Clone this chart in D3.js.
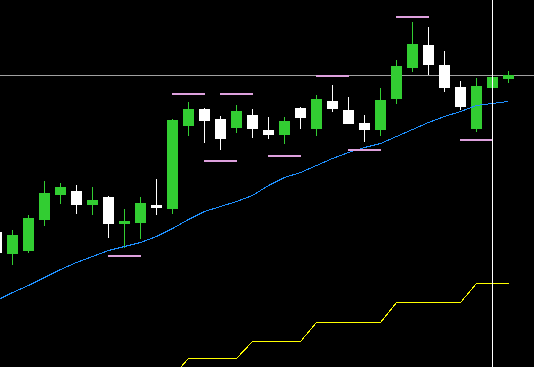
<!DOCTYPE html>
<html>
<head>
<meta charset="utf-8">
<script src="https://cdn.jsdelivr.net/npm/d3@7"></script>
<style>
  html, body { margin: 0; padding: 0; background: #000; overflow: hidden; }
  #chart { width: 534px; height: 367px; }
</style>
</head>
<body>
<div id="chart"></div>
<script>
// candle data (price, 4 digits)
const opens  = [1.3035, 1.3014, 1.3017, 1.3048, 1.3073, 1.3076, 1.3063, 1.3070, 1.3044, 1.3045, 1.3062,
                1.3059, 1.3142, 1.3158, 1.3148, 1.3140, 1.3152, 1.3137, 1.3133, 1.3159, 1.3139, 1.3166,
                1.3157, 1.3144, 1.3138, 1.3169, 1.3200, 1.3222, 1.3202, 1.3180, 1.3139, 1.3180, 1.3189];
const highs  = [1.3041, 1.3037, 1.3052, 1.3086, 1.3084, 1.3082, 1.3080, 1.3071, 1.3058, 1.3070, 1.3088,
                1.3148, 1.3165, 1.3159, 1.3151, 1.3162, 1.3158, 1.3150, 1.3150, 1.3160, 1.3172, 1.3182,
                1.3170, 1.3152, 1.3179, 1.3207, 1.3245, 1.3240, 1.3216, 1.3186, 1.3189, 1.3192, 1.3196];
const lows   = [1.3011, 1.3003, 1.3015, 1.3042, 1.3064, 1.3054, 1.3053, 1.3030, 1.3020, 1.3029, 1.3053,
                1.3054, 1.3132, 1.3125, 1.3118, 1.3135, 1.3130, 1.3129, 1.3124, 1.3139, 1.3132, 1.3156,
                1.3144, 1.3126, 1.3132, 1.3164, 1.3196, 1.3193, 1.3176, 1.3158, 1.3136, 1.3179, 1.3185];
const closes = [1.3015, 1.3032, 1.3049, 1.3074, 1.3080, 1.3063, 1.3067, 1.3044, 1.3046, 1.3064, 1.3060,
                1.3147, 1.3158, 1.3147, 1.3129, 1.3156, 1.3139, 1.3133, 1.3146, 1.3150, 1.3168, 1.3159,
                1.3144, 1.3138, 1.3167, 1.3201, 1.3223, 1.3203, 1.3180, 1.3161, 1.3181, 1.3190, 1.3192];

// moving average (blue)
const maValues = [1.2967, 1.2975, 1.2982, 1.2990, 1.2998, 1.3005, 1.3011, 1.3017, 1.3021, 1.3025, 1.3031,
                  1.3039, 1.3048, 1.3056, 1.3061, 1.3066, 1.3072, 1.3082, 1.3090, 1.3095, 1.3102, 1.3109,
                  1.3115, 1.3120, 1.3124, 1.3131, 1.3138, 1.3145, 1.3151, 1.3156, 1.3162, 1.3164, 1.3166];

// step line (yellow)
const stepValues = [1.2891, 1.2891, 1.2891, 1.2891, 1.2891, 1.2891, 1.2891, 1.2891, 1.2891, 1.2891, 1.2891,
                    1.2891, 1.2909, 1.2909, 1.2909, 1.2909, 1.2926, 1.2926, 1.2926, 1.2926, 1.2945, 1.2945,
                    1.2945, 1.2945, 1.2945, 1.2965, 1.2965, 1.2965, 1.2965, 1.2965, 1.2984, 1.2984, 1.2984];

// fractal marks (pink): candle index and price
const fractalBars   = [8, 12, 14, 15, 18, 21, 23, 26, 30];
const fractalPrices = [1.3012, 1.3174, 1.3107, 1.3174, 1.3112, 1.3192, 1.3118, 1.3251, 1.3128];

const bidPrice = 1.3192;
const cursorBar = 31;

const width = 534, height = 367;

const svg = d3.select("#chart").append("svg")
    .attr("width", width)
    .attr("height", height)
    .style("display", "block")
    .attr("shape-rendering", "crispEdges");

svg.append("rect").attr("width", width).attr("height", height).attr("fill", "#000");

const x = d3.scaleLinear().domain([0, opens.length - 1]).range([-3.5, 508.5]);
const y = d3.scaleLinear().domain([1.2900, 1.3267]).range([367, 0]);

const bars = opens.map((o, i) => ({ i, o, h: highs[i], l: lows[i], c: closes[i] }));

// bid line
svg.append("line")
    .attr("x1", 0).attr("x2", width)
    .attr("y1", Math.round(y(bidPrice)) + 0.5).attr("y2", Math.round(y(bidPrice)) + 0.5)
    .attr("stroke", "#a0a0a0");

// yellow step line
svg.append("path")
    .datum(stepValues)
    .attr("fill", "none")
    .attr("stroke", "#ffff00")
    .attr("stroke-width", 1)
    .attr("d", d3.line().x((d, i) => x(i)).y(d => Math.round(y(d)) + 0.5));

// candles
const up = d => d.c >= d.o;
const col = d => up(d) ? "#32cd32" : "#ffffff";

svg.selectAll(".wick")
    .data(bars)
    .enter().append("line")
    .attr("class", "wick")
    .attr("x1", d => x(d.i)).attr("x2", d => x(d.i))
    .attr("y1", d => Math.round(y(d.h)))
    .attr("y2", d => Math.round(y(d.l)) + 1)
    .attr("stroke", col);

svg.selectAll(".body")
    .data(bars)
    .enter().append("rect")
    .attr("class", "body")
    .attr("x", d => x(d.i) - 5.5)
    .attr("width", 11)
    .attr("y", d => Math.round(y(Math.max(d.o, d.c))))
    .attr("height", d => Math.abs(Math.round(y(d.o)) - Math.round(y(d.c))) + 1)
    .attr("fill", col);

// moving average
svg.append("path")
    .datum(maValues)
    .attr("fill", "none")
    .attr("stroke", "#1e90ff")
    .attr("stroke-width", 1)
    .attr("d", d3.line().x((d, i) => x(i)).y(d => y(d) + 0.5));

// fractals
svg.selectAll(".fractal")
    .data(fractalBars)
    .enter().append("rect")
    .attr("class", "fractal")
    .attr("x", d => x(d) - 16.5)
    .attr("width", 33)
    .attr("y", (d, k) => Math.round(y(fractalPrices[k])))
    .attr("height", 2)
    .attr("fill", "#dda0dd");

// cursor line
svg.append("line")
    .attr("x1", x(cursorBar)).attr("x2", x(cursorBar))
    .attr("y1", 0).attr("y2", height)
    .attr("stroke", "#ffffff");
</script>
</body>
</html>
